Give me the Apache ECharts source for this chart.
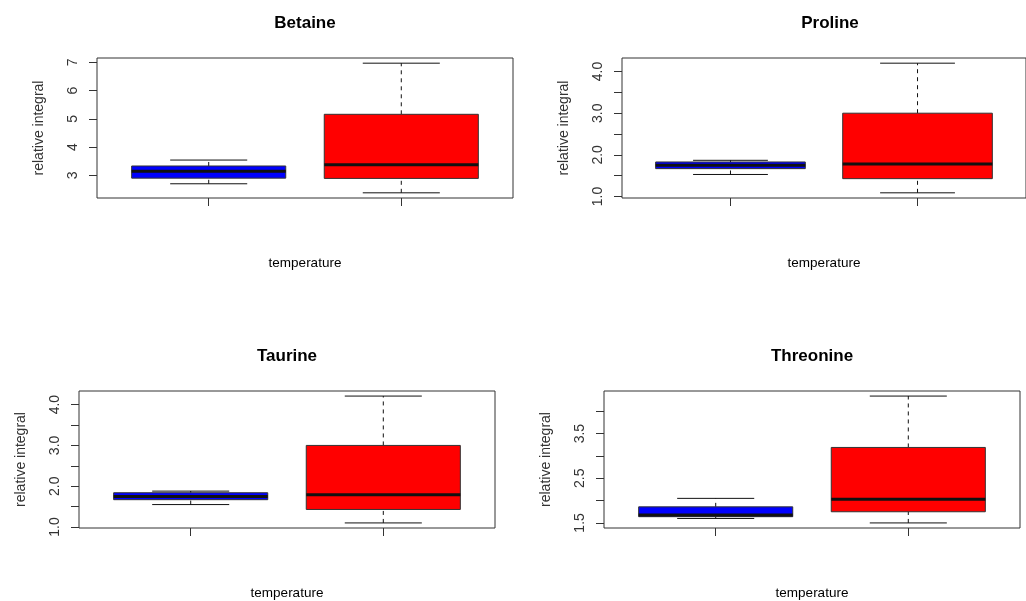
<!DOCTYPE html>
<html>
<head>
<meta charset="utf-8">
<script src="https://cdn.jsdelivr.net/npm/echarts@6/dist/echarts.min.js"></script>
<style>
  html, body { margin: 0; padding: 0; background: #ffffff; }
  #chart { width: 1026px; height: 601px; }
</style>
</head>
<body>
<div id="chart"></div>
<script>
// Box statistics per group: [lower whisker, Q1, median, Q3, upper whisker]
const groupPositions = [1, 2];
const boxColors = ['#0000ff', '#ff0000'];

const betaine   = [[2.70, 2.90, 3.14, 3.33, 3.54], [2.38, 2.89, 3.37, 5.16, 6.97]];
const proline   = [[1.53, 1.67, 1.75, 1.83, 1.87], [1.09, 1.43, 1.78, 3.00, 4.20]];
const taurine   = [[1.55, 1.67, 1.75, 1.84, 1.88], [1.10, 1.43, 1.79, 3.00, 4.21]];
const threonine = [[1.60, 1.64, 1.68, 1.86, 2.05], [1.50, 1.75, 2.03, 3.19, 4.34]];

// Axis tick positions and which of them carry labels
const betaineTicks   = [3, 4, 5, 6, 7];
const betaineLabels  = [3, 4, 5, 6, 7];
const prolineTicks   = [1.0, 1.5, 2.0, 2.5, 3.0, 3.5, 4.0];
const prolineLabels  = [1.0, 2.0, 3.0, 4.0];
const taurineTicks   = [1.0, 1.5, 2.0, 2.5, 3.0, 3.5, 4.0];
const taurineLabels  = [1.0, 2.0, 3.0, 4.0];
const threonineTicks = [1.5, 2.0, 2.5, 3.0, 3.5, 4.0];
const threonineLabels = [1.5, 2.5, 3.5];

const xLabel = 'temperature';
const yLabel = 'relative integral';

const panels = [
  { title: 'Betaine',   stats: betaine,   ticks: betaineTicks,   labels: betaineLabels,   decimals: 0, left: 97,  top: 58 },
  { title: 'Proline',   stats: proline,   ticks: prolineTicks,   labels: prolineLabels,   decimals: 1, left: 622, top: 58 },
  { title: 'Taurine',   stats: taurine,   ticks: taurineTicks,   labels: taurineLabels,   decimals: 1, left: 79,  top: 391 },
  { title: 'Threonine', stats: threonine, ticks: threonineTicks, labels: threonineLabels, decimals: 1, left: 604, top: 391 }
];
const plotW = 416, plotH = 140;
const fontFamily = '"Liberation Sans", Arial, sans-serif';

const option = {
  backgroundColor: '#ffffff',
  animation: false,
  title: [], grid: [], xAxis: [], yAxis: [], series: []
};

panels.forEach(function (p, i) {
  // R-style range: data extent widened by 4% on each side
  let lo = Infinity, hi = -Infinity;
  p.stats.forEach(function (s) { lo = Math.min(lo, s[0]); hi = Math.max(hi, s[4]); });
  const pad = (hi - lo) * 0.04;

  option.title.push({
    text: p.title,
    left: p.left + plotW / 2,
    top: p.top - 43,
    textAlign: 'center',
    padding: 0,
    textStyle: { fontFamily: fontFamily, fontSize: 17, fontWeight: 'bold', color: '#000' }
  });

  option.grid.push({
    left: p.left, top: p.top, width: plotW, height: plotH,
    show: true, borderColor: '#333', borderWidth: 1, backgroundColor: 'transparent',
    containLabel: false
  });

  option.xAxis.push({
    type: 'value', gridIndex: i,
    min: 0.42, max: 2.58,
    splitLine: { show: false },
    axisLine: { show: false },
    axisTick: { show: true, length: 8, customValues: groupPositions, lineStyle: { color: '#333' } },
    axisLabel: { show: false },
    name: xLabel, nameLocation: 'middle', nameGap: 58,
    nameTextStyle: { fontFamily: fontFamily, fontSize: 13.5, color: '#000' }
  });

  option.yAxis.push({
    type: 'value', gridIndex: i,
    min: lo - pad, max: hi + pad,
    splitLine: { show: false },
    axisLine: { show: false },
    axisTick: { show: true, length: 8, customValues: p.ticks, lineStyle: { color: '#333' } },
    axisLabel: {
      show: true, customValues: p.labels, rotate: 90, margin: 17,
      fontFamily: fontFamily, fontSize: 14, color: '#333',
      formatter: function (v) { return Number(v).toFixed(p.decimals); }
    },
    name: yLabel, nameLocation: 'middle', nameRotate: 90, nameGap: 51,
    nameTextStyle: { fontFamily: fontFamily, fontSize: 14, color: '#333' }
  });

  option.series.push({
    type: 'custom', xAxisIndex: i, yAxisIndex: i,
    clip: false,
    data: p.stats.map(function (s, k) { return [groupPositions[k]].concat(s); }),
    renderItem: function (params, api) {
      const x = api.value(0);
      const wLo = api.value(1), q1 = api.value(2), med = api.value(3), q3 = api.value(4), wHi = api.value(5);
      const c = function (xx, yy) { return api.coord([xx, yy]); };
      const L = c(x - 0.4, q3), R = c(x + 0.4, q1);
      const capL = x - 0.2, capR = x + 0.2;
      const ink = '#111';
      const line = function (a, b, dash, w) {
        return {
          type: 'line',
          shape: { x1: a[0], y1: a[1], x2: b[0], y2: b[1] },
          style: { stroke: ink, lineWidth: w || 1, lineDash: dash || null }
        };
      };
      return {
        type: 'group',
        children: [
          line(c(x, q3), c(x, wHi), [4, 4]),
          line(c(x, wLo), c(x, q1), [4, 4]),
          line(c(capL, wHi), c(capR, wHi)),
          line(c(capL, wLo), c(capR, wLo)),
          {
            type: 'rect',
            shape: { x: L[0], y: L[1], width: R[0] - L[0], height: R[1] - L[1] },
            style: { fill: boxColors[params.dataIndex], stroke: '#333', lineWidth: 1 }
          },
          line(c(x - 0.4, med), c(x + 0.4, med), null, 3)
        ]
      };
    }
  });
});

const chart = echarts.init(document.getElementById('chart'), null, { renderer: 'canvas' });
chart.setOption(option);
</script>
</body>
</html>
